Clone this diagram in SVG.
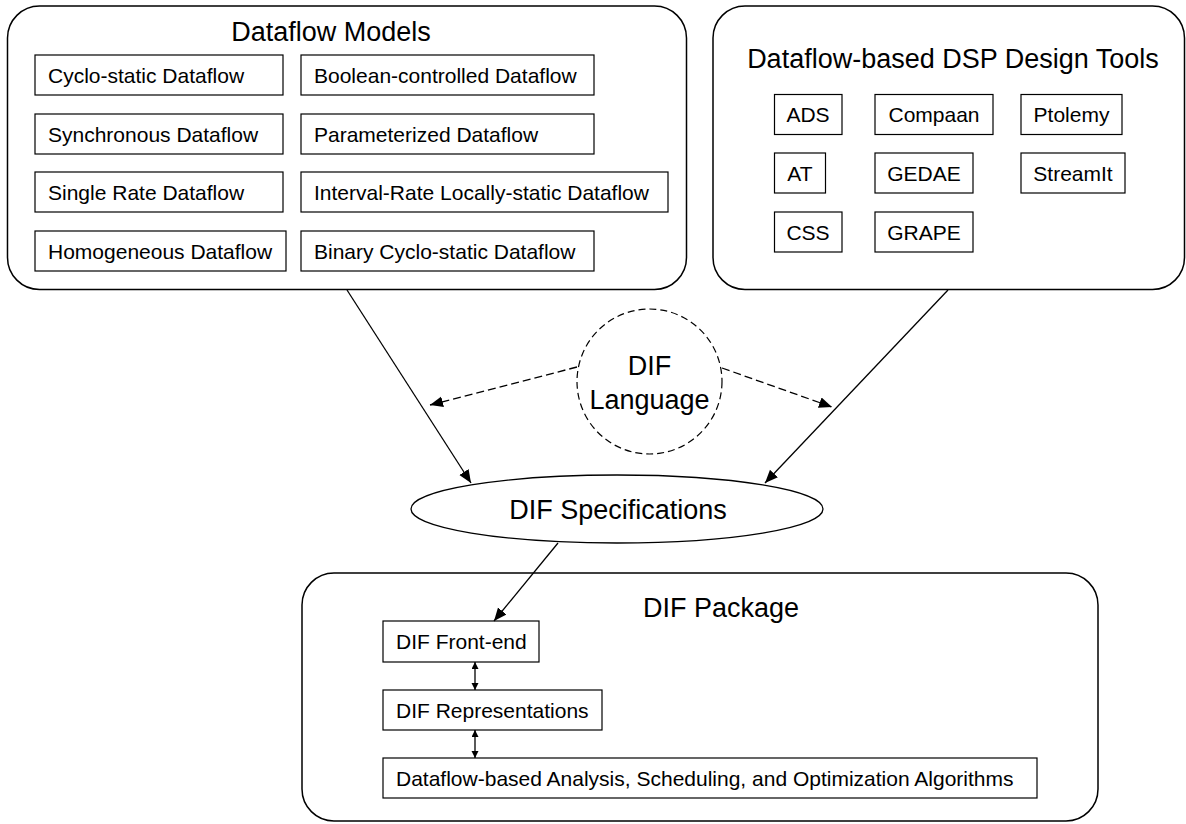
<svg xmlns="http://www.w3.org/2000/svg" width="1186" height="824" viewBox="0 0 1186 824">
<defs>
<style>
text{font-family:"Liberation Sans",Arial,sans-serif;fill:#000}
.big{fill:#fff;stroke:#000;stroke-width:1.5}
.box{fill:#fff;stroke:#000;stroke-width:1.2}
.t27{font-size:27px}
.t21{font-size:21px}
.c{text-anchor:middle}
.ln{stroke:#000;stroke-width:1.3;fill:none}
.dash{stroke-dasharray:8,4}
</style>
<marker id="ah" markerUnits="userSpaceOnUse" markerWidth="14" markerHeight="12" refX="13" refY="5.5" orient="auto"><path d="M0,0 L13,5.5 L0,11 z" fill="#000"/></marker>
<marker id="sh" markerUnits="userSpaceOnUse" markerWidth="8" markerHeight="8" refX="7" refY="3.5" orient="auto-start-reverse"><path d="M0,0 L7,3.5 L0,7 z" fill="#000"/></marker>
</defs>
<rect width="1186" height="824" fill="#fff"/>

<g id="dataflow-models">
<rect class="big" x="7.5" y="6" width="679" height="283.5" rx="32" ry="32"/>
<text class="t27 c" x="331" y="41">Dataflow Models</text>
<g id="m-csdf"><rect class="box" x="35" y="55" width="248" height="40"/><text class="t21" x="48" y="83">Cyclo-static Dataflow</text></g>
<g id="m-sdf"><rect class="box" x="35" y="114" width="248" height="40"/><text class="t21" x="48" y="142">Synchronous Dataflow</text></g>
<g id="m-srdf"><rect class="box" x="35" y="172" width="248" height="40"/><text class="t21" x="48" y="200">Single Rate Dataflow</text></g>
<g id="m-hdf"><rect class="box" x="35" y="231" width="251" height="40"/><text class="t21" x="48" y="259">Homogeneous Dataflow</text></g>
<g id="m-bdf"><rect class="box" x="301" y="55" width="293" height="40"/><text class="t21" x="314" y="83">Boolean-controlled Dataflow</text></g>
<g id="m-pdf"><rect class="box" x="301" y="114" width="293" height="40"/><text class="t21" x="314" y="142">Parameterized Dataflow</text></g>
<g id="m-ilsdf"><rect class="box" x="301" y="172" width="367" height="40"/><text class="t21" x="314" y="200">Interval-Rate Locally-static Dataflow</text></g>
<g id="m-bcsdf"><rect class="box" x="301" y="231" width="293" height="40"/><text class="t21" x="314" y="259">Binary Cyclo-static Dataflow</text></g>
</g>

<g id="dsp-tools">
<rect class="big" x="713" y="6" width="471.5" height="283.5" rx="32" ry="32"/>
<text class="t27 c" x="953" y="68">Dataflow-based DSP Design Tools</text>
<g id="t-ads"><rect class="box" x="774.5" y="94.5" width="67.5" height="40"/><text class="t21 c" x="808" y="122">ADS</text></g>
<g id="t-at"><rect class="box" x="774.5" y="153" width="51" height="40"/><text class="t21 c" x="800" y="181">AT</text></g>
<g id="t-css"><rect class="box" x="774.5" y="212" width="67.5" height="40"/><text class="t21 c" x="808" y="240">CSS</text></g>
<g id="t-compaan"><rect class="box" x="875" y="94.5" width="118" height="40"/><text class="t21 c" x="934" y="122">Compaan</text></g>
<g id="t-gedae"><rect class="box" x="875" y="153" width="98" height="40"/><text class="t21 c" x="924" y="181">GEDAE</text></g>
<g id="t-grape"><rect class="box" x="875" y="212" width="98" height="40"/><text class="t21 c" x="924" y="240">GRAPE</text></g>
<g id="t-ptolemy"><rect class="box" x="1021" y="94.5" width="101" height="40"/><text class="t21 c" x="1071.5" y="122">Ptolemy</text></g>
<g id="t-streamit"><rect class="box" x="1021" y="153" width="104" height="40"/><text class="t21 c" x="1073" y="181">StreamIt</text></g>
</g>

<g id="dif-language">
<circle cx="649.5" cy="381.5" r="72.5" fill="#fff" stroke="#000" stroke-width="1.2" stroke-dasharray="7,4"/>
<text class="t27 c" x="649.5" y="375">DIF</text>
<text class="t27 c" x="649.5" y="409">Language</text>
</g>

<g id="dif-specifications">
<ellipse cx="617" cy="509" rx="206" ry="34" fill="#fff" stroke="#000" stroke-width="1.3"/>
<text class="t27 c" x="618" y="519">DIF Specifications</text>
</g>

<g id="dif-package">
<rect class="big" x="302" y="573" width="796" height="248" rx="32" ry="32"/>
<text class="t27 c" x="721" y="617">DIF Package</text>
<g id="p-frontend"><rect class="box" x="383" y="621" width="156" height="41"/><text class="t21" x="396" y="649">DIF Front-end</text></g>
<g id="p-rep"><rect class="box" x="383" y="690" width="219" height="40"/><text class="t21" x="396" y="718">DIF Representations</text></g>
<g id="p-algo"><rect class="box" x="383" y="758" width="654" height="40"/><text class="t21" x="396" y="786">Dataflow-based Analysis, Scheduling, and Optimization Algorithms</text></g>
</g>

<g id="connectors">
<line class="ln" x1="347" y1="290" x2="471" y2="483" marker-end="url(#ah)"/>
<line class="ln" x1="948" y1="290" x2="765" y2="483" marker-end="url(#ah)"/>
<line class="ln dash" x1="577" y1="367" x2="430" y2="405" marker-end="url(#ah)"/>
<line class="ln dash" x1="722" y1="368" x2="832" y2="407" marker-end="url(#ah)"/>
<line class="ln" x1="558" y1="543" x2="494" y2="621" marker-end="url(#ah)"/>
<line class="ln" x1="475" y1="662" x2="475" y2="690" marker-start="url(#sh)" marker-end="url(#sh)"/>
<line class="ln" x1="475" y1="730" x2="475" y2="758" marker-start="url(#sh)" marker-end="url(#sh)"/>
</g>
</svg>
